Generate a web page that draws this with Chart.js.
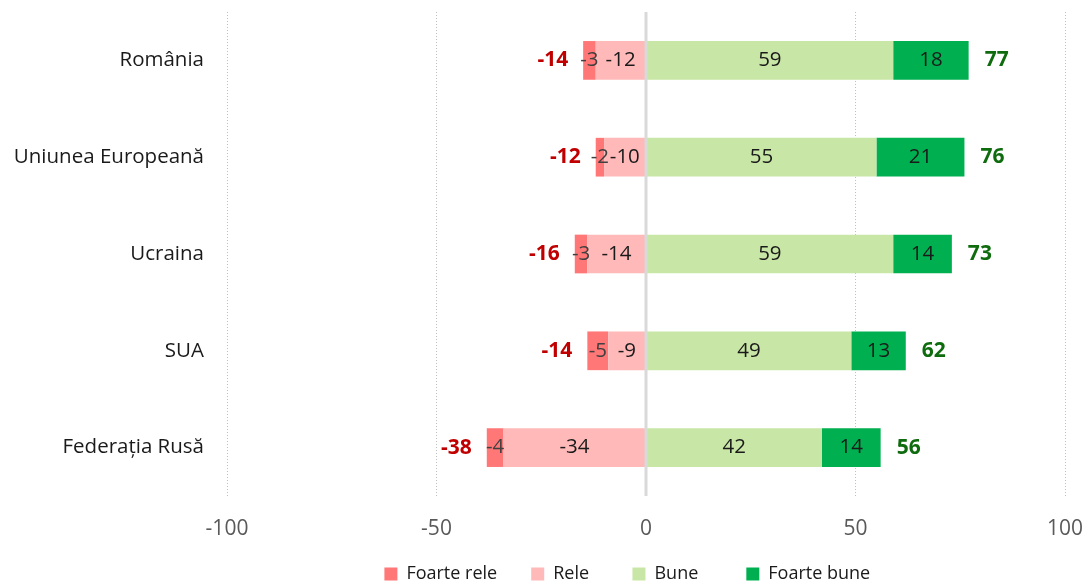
<!DOCTYPE html>
<html>
<head>
<meta charset="utf-8">
<script src="https://cdn.jsdelivr.net/npm/chart.js@4.4.1/dist/chart.umd.min.js"></script>
<style>
  body { margin: 0; background: #fff; }
  #wrap { width: 1086px; height: 583px; }
</style>
</head>
<body>
<div id="wrap"><canvas id="chart"></canvas></div>
<script>
const categories = ["România", "Uniunea Europeană", "Ucraina", "SUA", "Federația Rusă"];
const foarteRele = [-3, -2, -3, -5, -4];
const rele = [-12, -10, -14, -9, -34];
const bune = [59, 55, 59, 49, 42];
const foarteBune = [18, 21, 14, 13, 14];
const totalNegativ = [-14, -12, -16, -14, -38];
const totalPozitiv = [77, 76, 73, 62, 56];
const xTicks = [-100, -50, 0, 50, 100];

// legend shows "Foarte rele" first, but "Rele" is stacked next to zero
const legendRank = [1, 0, 2, 3];
// extra space after each legend entry (by dataset index)
const legendGap = [5, 3, 6, 8];

Chart.defaults.font.family = '"Open Sans", "DejaVu Sans", sans-serif';

// Segment values, totals and the zero line
const valueLabels = {
    id: "valueLabels",
    afterDatasetsDraw(chart) {
        const ctx = chart.ctx;
        const x = chart.scales.x;
        const area = chart.chartArea;

        ctx.save();
        const x0 = x.getPixelForValue(0);
        ctx.strokeStyle = "#D9D9D9";
        ctx.lineWidth = 3;
        ctx.beginPath();
        ctx.moveTo(x0, area.top);
        ctx.lineTo(x0, area.bottom);
        ctx.stroke();

        ctx.textBaseline = "middle";
        ctx.textAlign = "center";
        ctx.font = '20.5px "Open Sans"';
        chart.data.datasets.forEach((ds, di) => {
            ctx.fillStyle = ds.labelColor;
            chart.getDatasetMeta(di).data.forEach((bar, i) => {
                ctx.fillText(ds.data[i], (bar.x + bar.base) / 2, bar.y);
            });
        });

        ctx.font = 'bold 21px "Open Sans"';
        const outerNeg = chart.getDatasetMeta(1).data;
        const outerPos = chart.getDatasetMeta(3).data;
        ctx.textAlign = "right";
        ctx.fillStyle = "#C00000";
        outerNeg.forEach((bar, i) => ctx.fillText(totalNegativ[i], bar.x - 15, bar.y));
        ctx.textAlign = "left";
        ctx.fillStyle = "#0E6B0E";
        outerPos.forEach((bar, i) => ctx.fillText(totalPozitiv[i], bar.x + 16, bar.y));
        ctx.restore();
    }
};

new Chart(document.getElementById("chart").getContext("2d"), {
    type: "bar",
    data: {
        labels: categories,
        datasets: [
            { label: "Rele", data: rele, backgroundColor: "#FFB9B9", labelColor: "#1a1a1a" },
            { label: "Foarte rele", data: foarteRele, backgroundColor: "#FF7777", labelColor: "#404040" },
            { label: "Bune", data: bune, backgroundColor: "#C8E6A5", labelColor: "#1a1a1a" },
            { label: "Foarte bune", data: foarteBune, backgroundColor: "#00B050", labelColor: "#1a1a1a" }
        ]
    },
    options: {
        indexAxis: "y",
        responsive: true,
        maintainAspectRatio: false,
        animation: false,
        barPercentage: 0.4,
        categoryPercentage: 1,
        layout: { padding: { top: 12, right: 21, left: 0, bottom: -10 } },
        scales: {
            x: {
                stacked: true,
                min: -100,
                max: 100,
                afterBuildTicks: s => { s.ticks = xTicks.map(v => ({ value: v })); },
                afterFit: s => { s.height = 49; s.paddingLeft = 0; s.paddingRight = 0; },
                grid: {
                    color: c => (c.tick && c.tick.value === 0) ? "rgba(0,0,0,0)" : "#BFBFBF",
                    lineWidth: 1,
                    drawTicks: false
                },
                border: { display: false, dash: [1, 2] },
                ticks: { color: "#595959", font: { size: 21 }, padding: 20 }
            },
            y: {
                stacked: true,
                grid: { display: false },
                border: { display: false },
                ticks: { color: "#1a1a1a", font: { size: 20.5 }, padding: 15 },
                afterFit: s => { s.width = 227; s.paddingTop = 0; s.paddingBottom = 0; }
            }
        },
        plugins: {
            legend: {
                position: "bottom",
                fullSize: false,
                labels: {
                    boxWidth: 13,
                    boxHeight: 13,
                    padding: 20,
                    color: "#1a1a1a",
                    font: { size: 18 },
                    generateLabels: chart => {
                        const items = Chart.defaults.plugins.legend.labels.generateLabels(chart);
                        items.forEach(it => { it.text = it.text + " ".repeat(legendGap[it.datasetIndex]); });
                        return items;
                    },
                    sort: (a, b) => legendRank[a.datasetIndex] - legendRank[b.datasetIndex]
                }
            },
            tooltip: { enabled: false }
        }
    },
    plugins: [valueLabels]
});
</script>
</body>
</html>
